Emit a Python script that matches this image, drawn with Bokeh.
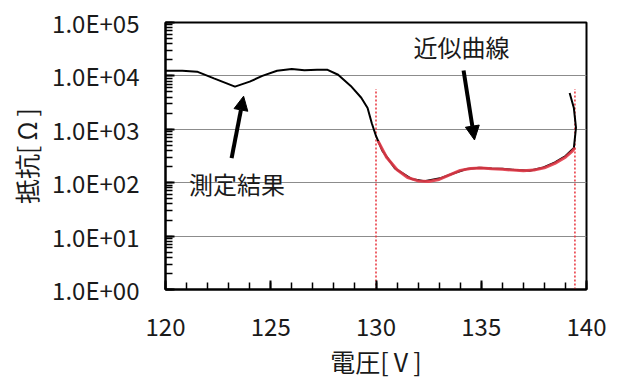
import math
from bokeh.plotting import figure
from bokeh.models import Arrow, NormalHead, FixedTicker, CustomJSTickFormatter, Label, Range1d, Title
from bokeh.embed import file_html
from bokeh.resources import INLINE

# measured curve (voltage [V], resistance [Ohm])
meas_v = [120.0, 120.8, 121.5, 122.3, 123.3, 124.0, 124.6, 125.3, 126.0, 126.6, 127.2, 127.7,
          128.2, 128.8, 129.3, 129.6, 129.8, 130.0, 130.3, 130.9, 131.7, 132.3, 133.1, 133.7,
          134.3, 134.9, 135.5, 136.0, 136.7, 137.3, 137.9, 138.5, 139.0, 139.4, 139.5, 139.4, 139.2]
meas_r = [12500, 12500, 12000, 9000, 6300, 7800, 10000, 12500, 13500, 12800, 13000, 13000,
          10500, 6500, 3900, 2500, 1300, 750, 400, 186, 117, 107, 123, 150,
          180, 190, 185, 182, 172, 168, 190, 240, 316, 447, 1070, 2500, 4800]

# fitted curve
fit_v = [130.1, 130.5, 131.0, 131.5, 132.0, 132.5, 133.0, 133.5, 134.0, 134.5, 135.0, 135.5,
         136.0, 136.5, 137.0, 137.5, 138.0, 138.5, 139.0, 139.3, 139.45]
fit_r = [600, 300, 175, 125, 108, 105, 115, 140, 170, 185, 188, 182,
         178, 172, 168, 172, 190, 230, 300, 380, 450]

# fit-range bounds
bound_v = [130.0, 139.45]
bound_top = 5700

x_ticks = [120, 125, 130, 135, 140]
x_minor = list(range(120, 141))

FONT = "Noto Sans CJK JP"
X0, X1, Y0, Y1 = 120, 140, 1, 1e5

p = figure(width=623, height=383, x_range=Range1d(X0, X1), y_range=Range1d(Y0, Y1),
           y_axis_type="log", output_backend="svg", toolbar_location=None,
           min_border_left=164, min_border_right=37, min_border_top=22, min_border_bottom=94)
p.background_fill_color = "white"
p.border_fill_color = "white"
p.outline_line_color = "black"
p.outline_line_width = 2

p.xgrid.visible = False
p.ygrid.grid_line_color = "#8c8c8c"
p.ygrid.grid_line_width = 1

for ax in (p.xaxis[0], p.yaxis[0]):
    ax.axis_line_color = "black"
    ax.axis_line_width = 2
    ax.major_tick_in = 9
    ax.major_tick_out = 0
    ax.minor_tick_in = 7
    ax.minor_tick_out = 0
    ax.major_tick_line_color = "black"
    ax.minor_tick_line_color = "black"
    ax.major_tick_line_width = 2
    ax.minor_tick_line_width = 1.5
    ax.major_label_text_font = FONT
    ax.major_label_text_font_size = "24px"
    ax.major_label_text_color = "#1a1a1a"

p.xaxis.ticker = FixedTicker(ticks=x_ticks, minor_ticks=x_minor)
p.xaxis.major_label_standoff = 28
p.yaxis.formatter = CustomJSTickFormatter(
    code='var e = Math.round(Math.log10(tick)); return "1.0E+" + (e < 10 ? "0" + e : "" + e);')
p.yaxis.major_label_standoff = 26

for bv in bound_v:
    p.line([bv, bv], [Y0, bound_top], line_color="#e8303a", line_width=1.5, line_dash="2 2")

p.line(meas_v, meas_r, line_color="black", line_width=2)
p.line(fit_v, fit_r, line_color="#e23a48", line_width=3, line_alpha=0.9)

p.add_layout(Arrow(end=NormalHead(size=14, fill_color="black", line_color="black"),
                   x_start=123.14, y_start=10 ** 2.46, x_end=123.71, y_end=10 ** 3.62,
                   line_width=4, line_color="black"))
p.add_layout(Arrow(end=NormalHead(size=14, fill_color="black", line_color="black"),
                   x_start=134.16, y_start=10 ** 4.10, x_end=134.68, y_end=10 ** 2.80,
                   line_width=4, line_color="black"))

p.add_layout(Label(x=123.4, y=10 ** 1.99, text="測定結果", text_font=FONT, text_font_size="24px",
                   text_align="center", text_baseline="middle", text_color="#1a1a1a"))
p.add_layout(Label(x=134.06, y=10 ** 4.55, text="近似曲線", text_font=FONT, text_font_size="24px",
                   text_align="center", text_baseline="middle", text_color="#1a1a1a"))

# axis titles, placed like the original (slightly off-centre)
p.add_layout(Title(text="電圧[\u2009V\u2009]", align="center", offset=-13, standoff=4,
                   text_font=FONT, text_font_size="25px", text_font_style="normal",
                   text_color="#1a1a1a"), "below")
p.add_layout(Title(text="抵抗[\u2009Ω\u2009]", align="center", offset=-22, standoff=11,
                   text_font=FONT, text_font_size="25px", text_font_style="normal",
                   text_color="#1a1a1a"), "left")

open("out.html", "w").write(file_html(p, INLINE))
